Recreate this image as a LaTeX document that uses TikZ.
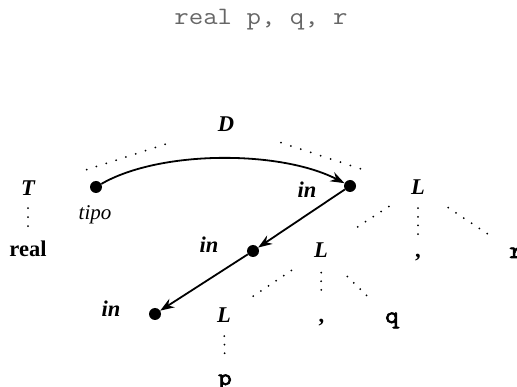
\documentclass[tikz,border=0pt]{standalone}
\usepackage{fontspec}
\newfontfamily\tnr{Liberation Serif}
\newfontfamily\idfont{Latin Modern Mono}[FakeBold=3,FakeStretch=1.1]
\newfontfamily\ttlfont{Latin Modern Mono}[FakeStretch=1.12]
\usetikzlibrary{arrows.meta}
\begin{document}
\begin{tikzpicture}[x=1pt,y=-1pt,
  lbl/.style={inner sep=0pt, anchor=base, font=\tnr\bfseries\itshape\fontsize{22.5}{27}\selectfont},
  bld/.style={inner sep=0pt, anchor=base, font=\tnr\bfseries\fontsize{22.5}{27}\selectfont},
  itl/.style={inner sep=0pt, anchor=base, font=\tnr\itshape\fontsize{21}{25}\selectfont},
  ident/.style={inner sep=0pt, anchor=base, font=\idfont\fontsize{24}{28}\selectfont},
  ttl/.style={inner sep=0pt, anchor=base, text=black!60, font=\ttlfont\fontsize{25}{29}\selectfont},
  dep/.style={circle, fill=black, inner sep=0pt, minimum size=12pt},
  dotline/.style={line width=2pt, line cap=round, dash pattern=on 0pt off #1},
  arr/.style={line width=1.8pt, -{Stealth[length=14pt,width=10pt]}}
]
\useasboundingbox (0,0) rectangle (517,387);

\node[ttl] (title) at (261,25) {real p, q, r};

\node[lbl] (D) at (226,132) {D};
\node[lbl] (T) at (28,196) {T};
\node[lbl] (L1) at (418,195) {L};
\node[lbl] (L2) at (321,258) {L};
\node[lbl] (L3) at (224,323) {L};
\node[bld] (real) at (28,257) {real};
\node[bld] (c1) at (418,258) {,};
\node[bld] (c2) at (321.5,323) {,};
\node[ident] (r) at (516,258) {r};
\node[ident] (q) at (392,323) {q};
\node[ident] (p) at (225,385) {p};

\node[dep] (tipo) at (96,187) {};
\node[dep] (in1) at (350,186) {};
\node[dep] (in2) at (253,251) {};
\node[dep] (in3) at (155,314) {};
\node[itl] (tipolbl) at (95,220) {tipo};
\node[lbl] (inl1) at (307,198) {in};
\node[lbl] (inl2) at (209,253) {in};
\node[lbl] (inl3) at (111,317) {in};

% parse tree (dotted)
\draw[dotline=10.3pt, shorten <=64pt, shorten >=61pt] (D.center) -- (T.center);
\draw[dotline=10.45pt, shorten <=57.8pt, shorten >=60.3pt] (D.center) -- (L1.center);
\draw[dotline=8.95pt, shorten <=19.5pt, shorten >=14.4pt] (T.center) -- (real.center);
\draw[dotline=9.3pt, shorten <=34.7pt, shorten >=35.1pt] (L1.center) -- (L2.center);
\draw[dotline=8.65pt, shorten <=20.5pt, shorten >=24pt] (L1.center) -- (c1.center);
\draw[dotline=9.35pt, shorten <=36.3pt, shorten >=34.5pt] (L1.center) -- (r.center);
\draw[dotline=9.2pt, shorten <=35.6pt, shorten >=34pt] (L2.center) -- (L3.center);
\draw[dotline=8.6pt, shorten <=22pt, shorten >=25pt] (L2.center) -- (c2.center);
\draw[dotline=8.95pt, shorten <=37pt, shorten >=34pt] (L2.center) -- (q.center);
\draw[dotline=8.55pt, shorten <=20.5pt, shorten >=21pt] (L3.center) -- (p.center);

% dependency graph
\draw[arr] (tipo) .. controls (160,150) and (280,150) .. (in1);
\draw[arr] (in1) -- (in2);
\draw[arr] (in2) -- (in3);
\end{tikzpicture}
\end{document}
